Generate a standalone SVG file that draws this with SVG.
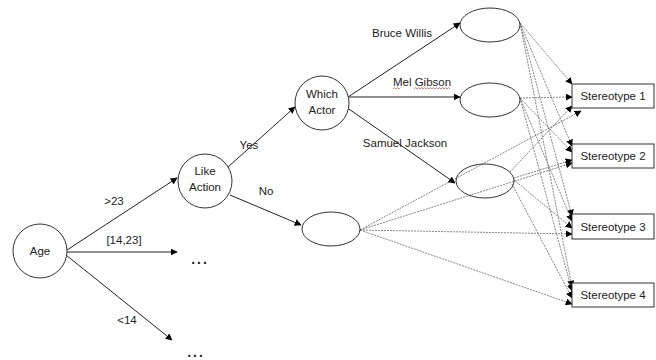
<svg xmlns="http://www.w3.org/2000/svg" width="656" height="360" viewBox="0 0 656 360">
<defs>
<marker id="ah" viewBox="0 0 10 10" refX="9" refY="5" markerWidth="7" markerHeight="7" markerUnits="userSpaceOnUse" orient="auto">
<path d="M0,0 L10,5 L0,10 z" fill="#000"/>
</marker>
<style>
.n{fill:#fff;stroke:#333;stroke-width:1}
.t{font-family:"Liberation Sans",Arial,sans-serif;font-size:11.5px;fill:#222;text-anchor:middle}
.s{stroke:#222;stroke-width:1;fill:none;marker-end:url(#ah)}
.d{stroke:#666;stroke-width:0.8;stroke-dasharray:2,1;fill:none;marker-end:url(#ah)}
.dots{font-family:"Liberation Sans",Arial,sans-serif;font-size:14px;font-weight:bold;fill:#222;text-anchor:middle;letter-spacing:2px}
</style>
</defs>
<rect width="656" height="360" fill="#fff"/>
<g id="connectors">
<line class="s" x1="67" y1="250" x2="177" y2="178"/>
<line class="s" x1="67" y1="252" x2="177" y2="252"/>
<line class="s" x1="66" y1="255" x2="172" y2="340"/>
<line class="s" x1="228" y1="167" x2="295" y2="107"/>
<line class="s" x1="230" y1="195" x2="301" y2="225"/>
<line class="s" x1="348" y1="97" x2="460" y2="23"/>
<line class="s" x1="349" y1="97" x2="460" y2="97"/>
<line class="s" x1="346" y1="107" x2="455" y2="183"/>
<line class="d" x1="520" y1="23" x2="572" y2="84"/>
<line class="d" x1="520" y1="23" x2="572" y2="146"/>
<line class="d" x1="520" y1="23" x2="572" y2="216"/>
<line class="d" x1="520" y1="23" x2="572" y2="287"/>
<line class="d" x1="520" y1="98" x2="572" y2="97"/>
<line class="d" x1="520" y1="98" x2="572" y2="152"/>
<line class="d" x1="520" y1="98" x2="572" y2="221"/>
<line class="d" x1="520" y1="98" x2="572" y2="291"/>
<line class="d" x1="510" y1="172" x2="572" y2="106"/>
<line class="d" x1="514" y1="178" x2="572" y2="160"/>
<line class="d" x1="514" y1="180" x2="572" y2="228"/>
<line class="d" x1="512" y1="184" x2="572" y2="298"/>
<line class="d" x1="360" y1="230" x2="581" y2="111"/>
<line class="d" x1="360" y1="230" x2="572" y2="163"/>
<line class="d" x1="360" y1="230" x2="572" y2="234"/>
<line class="d" x1="360" y1="230" x2="572" y2="304"/>
</g>
<g id="labels">
<text class="t" x="114" y="205">&gt;23</text>
<text class="t" x="124" y="244">[14,23]</text>
<text class="t" x="127" y="324">&lt;14</text>
<text class="t" x="249" y="149">Yes</text>
<text class="t" x="266" y="195">No</text>
<text class="t" x="402" y="37">Bruce Willis</text>
<text class="t" x="422" y="86">Mel Gibson</text>
<path d="M393,89 l1.5,-1.5 l1.5,1.5 l1.5,-1.5 l1.5,1.5 l1.5,-1.5 M414,89 l1.5,-1.5 l1.5,1.5 l1.5,-1.5 l1.5,1.5 l1.5,-1.5 l1.5,1.5 l1.5,-1.5 l1.5,1.5 l1.5,-1.5 l1.5,1.5 l1.5,-1.5 l1.5,1.5 l1.5,-1.5 l1.5,1.5 l1.5,-1.5 l1.5,1.5 l1.5,-1.5 l1.5,1.5 l1.5,-1.5 l1.5,1.5 l1.5,-1.5 l1.5,1.5 l1.5,-1.5 l1.5,1.5" fill="none" stroke="#e04040" stroke-width="0.7"/>
<text class="t" x="405" y="147">Samuel Jackson</text>
<text class="dots" x="200" y="264">...</text>
<text class="dots" x="196" y="357">...</text>
</g>
<g id="age"><circle class="n" cx="40" cy="251" r="27"/><text class="t" x="40" y="255">Age</text></g>
<g id="like-action"><circle class="n" cx="205" cy="181" r="27"/><text class="t" x="205" y="175">Like</text><text class="t" x="205" y="191">Action</text></g>
<g id="which-actor"><circle class="n" cx="322" cy="103" r="27"/><text class="t" x="322" y="98">Which</text><text class="t" x="322" y="114">Actor</text></g>
<g id="leaf-bruce"><ellipse class="n" cx="490" cy="25" rx="30" ry="17"/></g>
<g id="leaf-mel"><ellipse class="n" cx="490" cy="100" rx="30" ry="17"/></g>
<g id="leaf-samuel"><ellipse class="n" cx="485" cy="181" rx="29" ry="17" style="fill:none"/></g>
<g id="leaf-no"><ellipse class="n" cx="331" cy="229" rx="29" ry="17"/></g>
<g id="stereotype1"><rect class="n" x="572" y="84" width="82" height="24"/><text class="t" x="613" y="100">Stereotype 1</text></g>
<g id="stereotype2"><rect class="n" x="572" y="144" width="82" height="24"/><text class="t" x="613" y="160">Stereotype 2</text></g>
<g id="stereotype3"><rect class="n" x="572" y="214" width="82" height="25"/><text class="t" x="613" y="231">Stereotype 3</text></g>
<g id="stereotype4"><rect class="n" x="572" y="283" width="82" height="24"/><text class="t" x="613" y="299">Stereotype 4</text></g>
</svg>
